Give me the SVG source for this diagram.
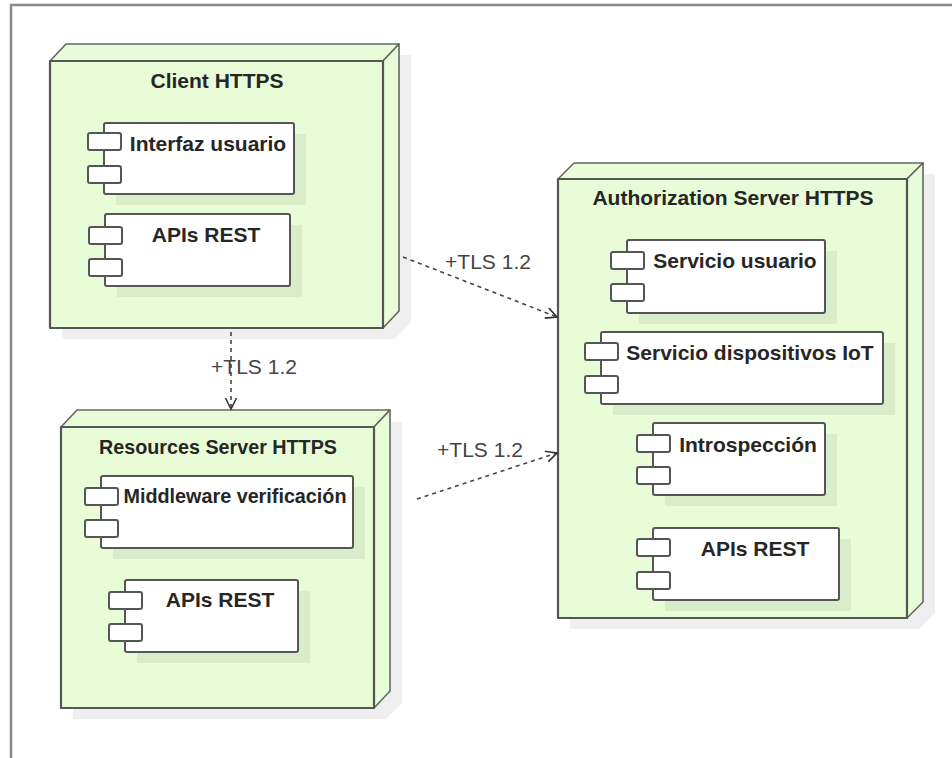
<svg xmlns="http://www.w3.org/2000/svg" width="952" height="758" viewBox="0 0 952 758">
<style>
.frame{fill:#ffffff;stroke:#8a8a8a;stroke-width:2.5}
.nshadow{fill:#efefef}
.face{fill:#e7fcd7;stroke:#555555;stroke-width:2.2;stroke-linejoin:round}
.side{fill:#e7fcd7;stroke:#666666;stroke-width:1.6;stroke-linejoin:round}
.cshadow{fill:#000000;fill-opacity:0.06}
.box{fill:#ffffff;stroke:#555555;stroke-width:2}
.title{font-family:"Liberation Sans",Arial,sans-serif;font-weight:bold;font-size:21px;fill:#262626;text-anchor:middle}
.ctext{font-family:"Liberation Sans",Arial,sans-serif;font-weight:bold;font-size:21px;fill:#262626;text-anchor:middle}
.lbl{font-family:"Liberation Sans",Arial,sans-serif;font-size:21px;fill:#444444;text-anchor:middle}
.dep{fill:none;stroke:#444444;stroke-width:1.6;stroke-dasharray:4,4;marker-end:url(#open)}
</style>
<defs>
<marker id="open" markerUnits="userSpaceOnUse" markerWidth="14" markerHeight="14" refX="12" refY="6" orient="auto">
<path d="M1,0.5 L12,6 L1,11.5" fill="none" stroke="#333333" stroke-width="1.6"/>
</marker>
</defs>
<rect class="frame" x="11" y="5" width="960" height="780"/>

<g id="client">
<polygon class="nshadow" points="62,72 78,55 411,55 411,322 395,339 62,339"/>
<polygon class="side" points="50,61 66,44 399,44 383,61"/>
<polygon class="side" points="383,61 399,44 399,311 383,328"/>
<rect class="face" x="50" y="61" width="333" height="267"/>
<text class="title" x="217" y="88">Client HTTPS</text>
<g id="c-interfaz">
<rect class="cshadow" x="116" y="134" width="190" height="71"/>
<rect class="box" x="104" y="123" width="190" height="71" rx="2"/>
<rect class="box" x="88" y="133" width="33" height="17" rx="2"/>
<rect class="box" x="88" y="166" width="33" height="17" rx="2"/>
<text class="ctext" x="208" y="151">Interfaz usuario</text>
</g>
<g id="c-apis">
<rect class="cshadow" x="117" y="225" width="185" height="72"/>
<rect class="box" x="105" y="214" width="185" height="72" rx="2"/>
<rect class="box" x="89" y="227" width="33" height="17" rx="2"/>
<rect class="box" x="89" y="259" width="33" height="17" rx="2"/>
<text class="ctext" x="206" y="242">APIs REST</text>
</g>
</g>

<g id="auth">
<polygon class="nshadow" points="570,190 586,174 935,174 935,613 919,629 570,629"/>
<polygon class="side" points="558,179 574,163 923,163 907,179"/>
<polygon class="side" points="907,179 923,163 923,602 907,618"/>
<rect class="face" x="558" y="179" width="349" height="439"/>
<text class="title" x="733" y="205">Authorization Server HTTPS</text>
<g id="a-usuario">
<rect class="cshadow" x="639" y="251" width="198" height="73"/>
<rect class="box" x="627" y="240" width="198" height="73" rx="2"/>
<rect class="box" x="611" y="252" width="33" height="17" rx="2"/>
<rect class="box" x="611" y="284" width="33" height="17" rx="2"/>
<text class="ctext" x="735" y="268">Servicio usuario</text>
</g>
<g id="a-iot">
<rect class="cshadow" x="613" y="343" width="282" height="72"/>
<rect class="box" x="601" y="332" width="282" height="72" rx="2"/>
<rect class="box" x="585" y="343" width="33" height="17" rx="2"/>
<rect class="box" x="585" y="376" width="33" height="17" rx="2"/>
<text class="ctext" x="750" y="360">Servicio dispositivos IoT</text>
</g>
<g id="a-intro">
<rect class="cshadow" x="665" y="434" width="172" height="72"/>
<rect class="box" x="653" y="423" width="172" height="72" rx="2"/>
<rect class="box" x="637" y="435" width="33" height="17" rx="2"/>
<rect class="box" x="637" y="467" width="33" height="17" rx="2"/>
<text class="ctext" x="748" y="452">Introspección</text>
</g>
<g id="a-apis">
<rect class="cshadow" x="665" y="539" width="186" height="72"/>
<rect class="box" x="653" y="528" width="186" height="72" rx="2"/>
<rect class="box" x="637" y="539" width="33" height="17" rx="2"/>
<rect class="box" x="637" y="572" width="33" height="17" rx="2"/>
<text class="ctext" x="755" y="556">APIs REST</text>
</g>
</g>

<g id="resources">
<polygon class="nshadow" points="73,438 89,422 402,422 402,703 386,719 73,719"/>
<polygon class="side" points="61,427 77,410 390,410 374,427"/>
<polygon class="side" points="374,427 390,410 390,691 374,708"/>
<rect class="face" x="61" y="427" width="313" height="281"/>
<text class="title" x="218" y="454" textLength="238" lengthAdjust="spacingAndGlyphs">Resources Server HTTPS</text>
<g id="r-middleware">
<rect class="cshadow" x="113" y="487" width="252" height="72"/>
<rect class="box" x="101" y="476" width="252" height="72" rx="2"/>
<rect class="box" x="85" y="488" width="33" height="17" rx="2"/>
<rect class="box" x="85" y="520" width="33" height="17" rx="2"/>
<text class="ctext" x="235" y="503" textLength="223" lengthAdjust="spacingAndGlyphs">Middleware verificación</text>
</g>
<g id="r-apis">
<rect class="cshadow" x="137" y="591" width="173" height="72"/>
<rect class="box" x="125" y="580" width="173" height="72" rx="2"/>
<rect class="box" x="109" y="592" width="33" height="17" rx="2"/>
<rect class="box" x="109" y="624" width="33" height="17" rx="2"/>
<text class="ctext" x="220" y="607">APIs REST</text>
</g>
</g>

<g id="connectors">
<line class="dep" x1="403" y1="257" x2="557" y2="317"/>
<text class="lbl" x="488" y="269">+TLS 1.2</text>
<line class="dep" x1="231" y1="332" x2="231" y2="409"/>
<text class="lbl" x="254" y="374">+TLS 1.2</text>
<line class="dep" x1="417" y1="499" x2="557" y2="453"/>
<text class="lbl" x="480" y="457">+TLS 1.2</text>
</g>
</svg>
